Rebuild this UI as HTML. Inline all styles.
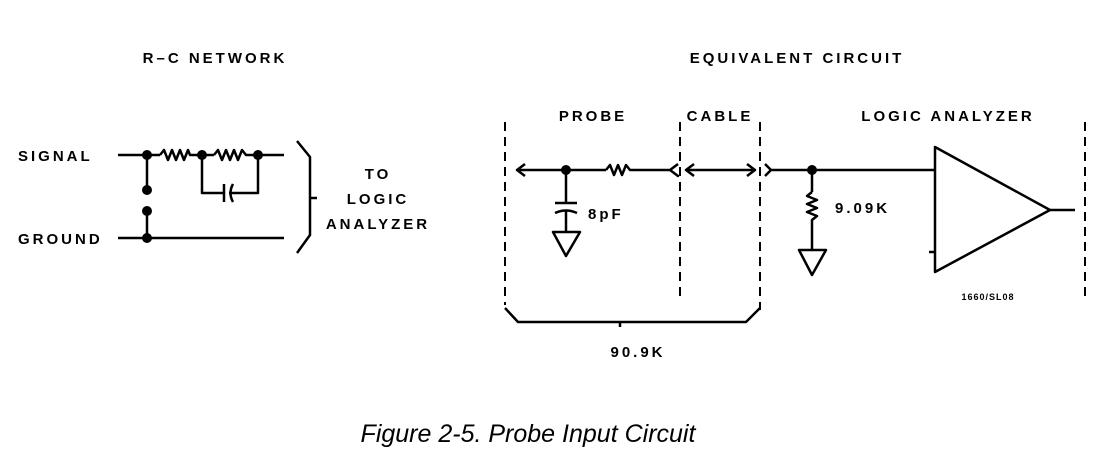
<!DOCTYPE html>
<html><head><style>
html,body{margin:0;padding:0;background:#fff;}
svg{display:block}
text{font-family:"Liberation Sans",sans-serif;font-weight:bold;font-size:15px;fill:#000;letter-spacing:3px}
.c{text-anchor:middle}
</style></head><body>
<svg width="1109" height="464" viewBox="0 0 1109 464" xmlns="http://www.w3.org/2000/svg">
<g stroke="#000" stroke-width="2.5" fill="none" stroke-linejoin="round">
<line x1="118" y1="155" x2="160" y2="155"/>
<polyline points="160,155 164,150 168,160 172,150 176,160 180,150 184,160 188,150 190,155 202,155"/>
<line x1="202" y1="155" x2="214" y2="155"/>
<polyline points="214,155 218,150 222,160 226,150 230,160 234,150 238,160 242,150 246,155 258,155"/>
<line x1="258" y1="155" x2="284" y2="155"/>
<polyline points="202,155 202,193 224,193"/>
<line x1="224" y1="184" x2="224" y2="202"/>
<path d="M233,184 Q228,193 233,202"/>
<polyline points="229,193 258,193 258,155"/>
<line x1="147" y1="155" x2="147" y2="188"/>
<line x1="147" y1="212" x2="147" y2="238"/>
<line x1="118" y1="238" x2="284" y2="238"/>
<polyline points="297,141 310,157 310,235 297,253"/>
<line x1="310" y1="198" x2="317" y2="198"/>
<g stroke-dasharray="9,6" stroke-width="2">
<line x1="505" y1="122" x2="505" y2="305"/>
<line x1="680" y1="122" x2="680" y2="300"/>
<line x1="760" y1="122" x2="760" y2="310"/>
<line x1="1085" y1="122" x2="1085" y2="300"/>
</g>
<line x1="517" y1="170" x2="606" y2="170"/>
<polyline points="525,164 517,170 525,176"/>
<polyline points="606,170 610,165 614,175 618,165 622,175 626,165 630,170 648,170"/>
<polyline points="678,164 670,170 678,176 670,170 648,170"/>
<line x1="686" y1="170" x2="755" y2="170"/>
<polyline points="694,164 686,170 694,176"/>
<polyline points="747,164 755,170 747,176"/>
<line x1="566" y1="170" x2="566" y2="203"/>
<line x1="555" y1="203" x2="577" y2="203"/>
<path d="M555,213 Q566,208 577,213"/>
<line x1="566" y1="211" x2="566" y2="232"/>
<polygon points="553,232 580,232 566,256"/>
<polyline points="765,164 771,170 765,176"/>
<line x1="771" y1="170" x2="935" y2="170"/>
<line x1="812" y1="170" x2="812" y2="192"/>
<polyline points="812,192 807,196 817,200 807,204 817,208 807,212 817,216 812,220 812,250"/>
<polygon points="799,250 826,250 812,275"/>
<polygon points="935,147 935,272 1050,210"/>
<line x1="1050" y1="210" x2="1075" y2="210"/>
<line x1="929" y1="252" x2="935" y2="252"/>
<polyline points="505,308 518,322 746,322 760,308"/>
<line x1="620" y1="322" x2="620" y2="327"/>
</g>
<g fill="#000">
<circle cx="147" cy="155" r="5"/><circle cx="202" cy="155" r="5"/><circle cx="258" cy="155" r="5"/>
<circle cx="147" cy="190" r="5"/><circle cx="147" cy="211" r="5"/><circle cx="147" cy="238" r="5"/>
<circle cx="566" cy="170" r="5"/><circle cx="812" cy="170" r="5"/>
</g>
<text class="c" x="215" y="63">R–C NETWORK</text>
<text class="c" x="797" y="63">EQUIVALENT CIRCUIT</text>
<text x="18" y="161">SIGNAL</text>
<text x="18" y="244">GROUND</text>
<text class="c" x="378" y="179">TO</text>
<text class="c" x="378" y="204">LOGIC</text>
<text class="c" x="378" y="229">ANALYZER</text>
<text class="c" x="593" y="121">PROBE</text>
<text class="c" x="720" y="121">CABLE</text>
<text class="c" x="948" y="121">LOGIC ANALYZER</text>
<text x="588" y="219">8pF</text>
<text x="835" y="213">9.09K</text>
<text class="c" x="988" y="300" style="font-size:9px;letter-spacing:1px">1660/SL08</text>
<text class="c" x="638" y="357">90.9K</text>
<text class="c" x="528" y="442" style="font-weight:normal;font-style:italic;font-size:25px;letter-spacing:0">Figure 2-5. Probe Input Circuit</text>
</svg>
</body></html>
